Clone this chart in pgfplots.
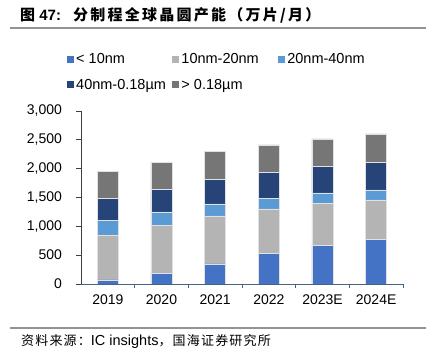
\documentclass[border=0pt]{standalone}
\usepackage{fontspec}
\setmainfont{Liberation Sans}
\newfontfamily\cjk{Noto Sans CJK SC}
\newfontfamily\cjkt{Noto Sans CJK SC}[LetterSpace=15]
\newfontfamily\cjks{Noto Sans CJK SC}[LetterSpace=9]
\usepackage{pgfplots}
\pgfplotsset{compat=1.18}
\definecolor{c1}{RGB}{68,114,196}
\definecolor{c2}{RGB}{180,180,180}
\definecolor{c3}{RGB}{91,155,213}
\definecolor{c4}{RGB}{38,68,120}
\definecolor{c5}{RGB}{118,118,118}
\definecolor{xax}{RGB}{70,100,130}
\definecolor{edge}{RGB}{225,225,225}
\begin{document}
\begin{tikzpicture}
\useasboundingbox (0,0) rectangle (426pt,356pt);
\node[anchor=west, inner sep=0pt] at (20pt,341pt) {\fontsize{15}{18}\selectfont\bfseries{\cjk 图} 47:\hspace{12pt}{\cjkt 分制程全球晶圆产能（万片/月）}};
\draw[line width=2pt, color=gray!85] (10pt,328pt) -- (426pt,328pt);
\draw[line width=1.5pt, color=gray!85] (10pt,28pt) -- (426pt,28pt);
\node[anchor=west, inner sep=0pt] at (21pt,14pt) {\fontsize{13}{15}\selectfont{\cjks 资料来源：}{\fontsize{14.5}{15}\selectfont IC insights}{\cjks ，国海证券研究所}};
\begin{axis}[
  at={(81pt,72pt)}, anchor=south west,
  scale only axis, width=322pt, height=173pt,
  ybar stacked, bar width=21pt,
  xmin=-0.5, xmax=5.5, ymin=0, ymax=3000,
  enlargelimits=false,
  axis x line*=bottom, axis y line*=left,
  x axis line style={draw=xax, line width=0.8pt},
  y axis line style={draw=black!75, line width=0.8pt},
  xtick={0,1,2,3,4,5},
  xticklabels={2019,2020,2021,2022,2023E,2024E},
  major x tick style={draw=none},
  minor xtick={0.5,1.5,2.5,3.5,4.5,5.5},
  minor x tick style={draw=xax, line width=0.8pt},
  minor tick length=4.5pt,
  ytick={0,500,1000,1500,2000,2500,3000},
  y tick style={draw=black!75, line width=0.8pt},
  major tick length=4.5pt,
  tick align=outside,
  /pgf/number format/assume math mode=true,
  /pgf/number format/.cd, 1000 sep={,}, /pgfplots/.cd,
  ticklabel style={font=\fontsize{14}{15}\selectfont},
  yticklabel style={xshift=-11pt},
  xticklabel style={yshift=-3pt},
  legend columns=3,
  legend cell align=left,
  legend image code/.code={\fill[#1,draw=none] (0pt,-3.5pt) rectangle (7.5pt,3.5pt);},
  legend style={at={(-0.045,1.345)}, anchor=north west, draw=none, inner sep=0pt,
    font=\fontsize{14.5}{16}\selectfont, row sep=10pt,
    /tikz/column 2/.style={column sep=4pt},
    /tikz/column 4/.style={column sep=17pt}},
]
\addplot[fill=c1, draw=edge, line width=0.5pt] coordinates {(0,70) (1,190) (2,350) (3,533) (4,665) (5,769)};
\addlegendentry{< 10nm}
\addplot[fill=c2, draw=edge, line width=0.5pt] coordinates {(0,770) (1,828) (2,830) (3,768) (4,728) (5,688)};
\addlegendentry{10nm-20nm}
\addplot[fill=c3, draw=edge, line width=0.5pt] coordinates {(0,265) (1,231) (2,208) (3,186) (4,186) (5,174)};
\addlegendentry{20nm-40nm}
\addplot[fill=c4, draw=edge, line width=0.5pt] coordinates {(0,375) (1,387) (2,423) (3,444) (4,456) (5,480)};
\addlegendentry{40nm-0.18µm}
\addplot[fill=c5, draw=edge, line width=0.5pt] coordinates {(0,475) (1,475) (2,491) (3,481) (4,481) (5,492)};
\addlegendentry{> 0.18µm}
\end{axis}
\end{tikzpicture}
\end{document}
